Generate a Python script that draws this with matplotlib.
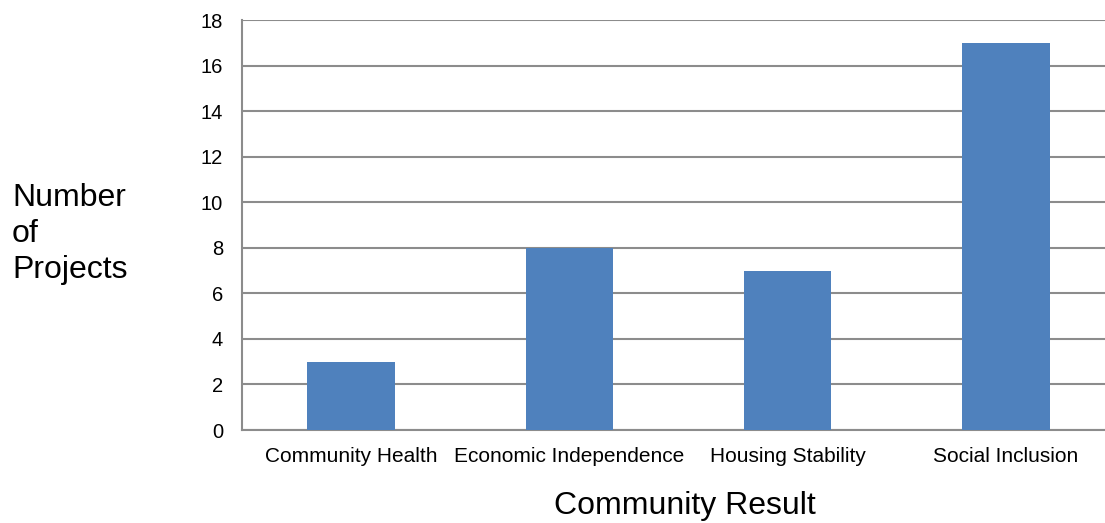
import matplotlib
matplotlib.use("Agg")
import matplotlib.pyplot as plt

categories = ["Community Health", "Economic Independence", "Housing Stability", "Social Inclusion"]
values = [3, 8, 7, 17]
yticks = [0, 2, 4, 6, 8, 10, 12, 14, 16, 18]

plt.rcParams['font.family'] = ['Liberation Sans', 'DejaVu Sans']

fig = plt.figure(figsize=(11.05, 5.23), dpi=100)
ax = fig.add_axes([242/1105, 1-430/523, (1115-242)/1105, (430-20)/523])

grid_c = "#8c8c8c"
ax.bar(range(len(categories)), values, width=0.40, color="#4F81BD", zorder=3)
ax.set_xlim(-0.5, len(categories) - 0.5)
ax.set_ylim(0, 18)
ax.set_yticks(yticks)
ax.set_yticklabels([str(v) for v in yticks], fontsize=14.5)
ax.set_xticks(range(len(categories)))
ax.set_xticklabels(categories, fontsize=15)
ax.tick_params(axis='both', length=0)
ax.tick_params(axis='y', pad=13.5)
ax.tick_params(axis='x', pad=12)
ax.yaxis.grid(True, color=grid_c, linewidth=1.5, zorder=0)
ax.set_axisbelow(True)
for s in ['top', 'right']:
    ax.spines[s].set_visible(False)
for s in ['left', 'bottom']:
    ax.spines[s].set_color(grid_c)
    ax.spines[s].set_linewidth(1.5)

fig.text(12/1105, 1-234/523, "Number\nof\nProjects", fontsize=23, ha='left', va='center', linespacing=1.24)
fig.text(685/1105, 1-506/523, "Community Result", fontsize=23, ha='center', va='center')

fig.savefig("out.png", dpi=100)
